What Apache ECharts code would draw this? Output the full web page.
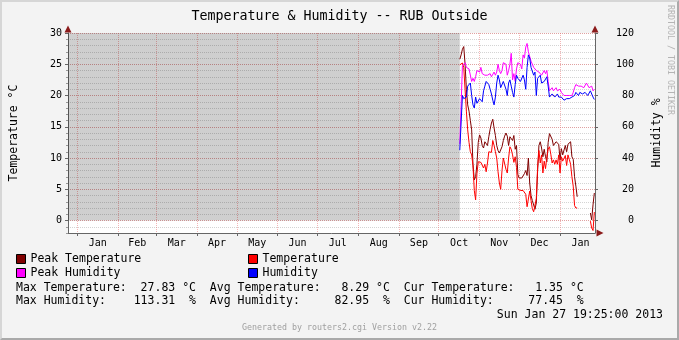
<!DOCTYPE html>
<html><head><meta charset="utf-8">
<script src="https://cdn.jsdelivr.net/npm/echarts@6/dist/echarts.min.js"></script>
<style>
html,body{margin:0;padding:0;background:#f3f3f3;}
#wrap{position:relative;width:679px;height:340px;}
#chart{width:679px;height:340px;}
#frame{position:absolute;left:0;top:0;width:679px;height:340px;box-sizing:border-box;border:2px solid;border-color:#d6d6d6 #a9a9a9 #a9a9a9 #d6d6d6;pointer-events:none;}
</style></head>
<body><div id="wrap"><div id="chart"></div><div id="frame"></div></div>
<script>
// ---- data (x = days since 2012-01-01) ----
const monthNames = ['Jan','Feb','Mar','Apr','May','Jun','Jul','Aug','Sep','Oct','Nov','Dec','Jan'];
const monthStarts = [0,31,60,91,121,152,182,213,244,274,305,335,366,397];
const xMin = -7, xMax = 392.5;
const unknownEnd = 290;          // gray "unknown" region ends (Oct 17)
const startDay = 290;            // first daily sample
const tempTicks = [0,5,10,15,20,25,30];
const humTicks = [0,20,40,60,80,100,120];

const peakTemp = [25.8,26.5,27.4,27.83,25.0,21.0,18.5,17.5,16.0,14.5,
  9.0,6.5,7.0,9.0,12.5,13.7,13.2,12.0,11.6,12.6,
  12.9,12.0,13.4,14.6,15.6,16.2,14.8,13.6,12.0,11.2,
  10.8,10.6,11.8,12.8,13.5,14.0,13.5,12.0,13.4,13.2,
  12.8,13.6,11.4,12.0,7.4,6.8,7.0,6.8,6.5,7.5,
  8.0,7.2,10.0,6.0,4.0,3.2,3.5,1.8,2.8,8.0,
  12.0,12.6,11.6,10.2,11.4,10.2,9.4,12.5,13.9,13.9,
  13.0,12.0,12.0,12.6,12.6,12.2,9.7,11.5,10.5,10.2,
  12.0,11.0,12.2,11.9,12.6,10.2,9.8,7.0,5.5,3.8,
  null,null,null,null,null,null,null,null,null,
  1.2,0.1,2.5,4.4];
const temperature = [24.9,25.2,25.2,24.5,21.0,17.5,14.5,12.5,11.0,10.5,
  8.8,4.8,3.3,7.5,9.4,9.4,9.3,9.4,8.4,9.0,
  7.8,9.2,11.0,11.2,10.9,12.8,12.0,11.0,10.0,7.8,
  6.0,5.0,8.0,10.0,10.2,8.2,7.6,10.0,11.8,11.4,
  10.5,9.3,10.2,8.5,5.0,4.9,4.8,4.6,4.8,5.0,
  4.2,2.2,2.0,4.7,3.2,1.9,1.4,1.7,3.5,8.5,
  11.2,9.2,10.5,7.6,9.5,8.3,10.2,11.4,11.8,10.6,
  9.2,9.7,9.0,9.7,9.0,10.5,7.6,10.2,9.5,9.5,
  10.4,8.8,10.5,9.8,9.0,7.0,5.5,2.4,2.0,2.0,
  null,null,null,null,null,null,null,null,null,
  -0.1,-1.2,-1.6,1.35];
const peakHumidity = [49,49,99,100,101,98,99,97,98,89,
  91,89,92,96,97,95,98,94,95,93,
  94,93,92,94,92,91,95,93,95,100,
  96,94,96,101,102,100,93,96,100,107,
  90,94,89,97,101,101,100,97,106,104,
  111,113.31,108,105,102,101,98,97,96,97,
  95,94,93,94,96,94,96,89,83,82,
  85,83,84,85,83,82,84,82,82,80,
  79,80,81,80,81,80,82,85,87,88,
  86,85,86,87,85,85,88,87,85,
  84,86,83,84];
const humidity = [45,45,80,78,77,79,86,85,88,80,
  74,72,79,75,76,78,79,76,83,86,
  89,90,87,84,81,77,74,79,88,93,
  90,85,84,89,88,84,80,88,90,86,
  82,79,87,93,91,90,89,88,93,90,
  84,98,106,104,98,98,93,95,80,91,
  90,93,88,89,89,90,92,86,79,78,
  81,80,79,80,81,79,80,79,78,77,
  76,78,78,78,78,79,78,80,82,81,
  80,82,81,81,80,82,81,80,81,
  83,83,79,77.45];

const statNames = ['Max','Avg','Cur'];
const tempStats = [27.83, 8.29, 1.35];
const humStats = [113.31, 82.95, 77.45];
const stampText = 'Sun Jan 27 19:25:00 2013';

// ---- helpers ----
const FONT = 'DejaVu Sans Mono';
const pts = arr => arr.map((v, i) => [startDay + i, v]);
const labelDays = monthNames.map((_, i) => (monthStarts[i] + monthStarts[i + 1]) / 2);
const monthLabel = v => {
  let best = 0;
  labelDays.forEach((d, i) => { if (Math.abs(d - v) < Math.abs(labelDays[best] - v)) best = i; });
  return monthNames[best];
};
const line1 = statNames.map((n, i) => n + ' Temperature:' + tempStats[i].toFixed(2).padStart(7) + ' °C').join('  ');
const line2 = statNames.map((n, i) => n + ' Humidity:' + humStats[i].toFixed(2).padStart(10) + '  %').join('  ');

const majorGrid = {show: true, lineStyle: {color: 'rgba(235,110,110,0.5)', width: 1, type: [1, 1]}};
const minorGrid = {show: true, lineStyle: {color: 'rgba(160,160,160,0.45)', width: 1, type: [1, 1]}};
const arrowColor = '#8b1a1a';
const legendCommon = {orient: 'vertical', top: 252, padding: 0, itemWidth: 9, itemHeight: 9, itemGap: 0,
  icon: 'rect', selectedMode: false, itemStyle: {borderColor: '#000', borderWidth: 1},
  textStyle: {fontFamily: FONT, fontSize: 11.5, color: '#000', lineHeight: 14}};

const chart = echarts.init(document.getElementById('chart'), null, {renderer: 'canvas'});
chart.setOption({
  animation: false,
  backgroundColor: '#f3f3f3',
  textStyle: {fontFamily: FONT},
  title: {
    text: 'Temperature & Humidity -- RUB Outside', left: 'center', top: 5,
    textStyle: {fontFamily: FONT, fontSize: 13.3, fontWeight: 'normal', color: '#000'}
  },
  grid: {left: 66, right: 84, top: 33, bottom: 107, show: true, backgroundColor: '#ffffff', borderWidth: 0},
  legend: [
    Object.assign({data: ['Peak Temperature', 'Peak Humidity'], left: 16}, legendCommon),
    Object.assign({data: ['Temperature', 'Humidity'], left: 248}, legendCommon)
  ],
  xAxis: [
    {type: 'value', min: xMin, max: xMax, position: 'bottom',
     axisLine: {show: true, onZero: false, lineStyle: {color: '#666', width: 1}},
     axisTick: {show: true, customValues: monthStarts, length: 3, lineStyle: {color: '#666'}},
     axisLabel: {customValues: labelDays, formatter: monthLabel, fontFamily: FONT, fontSize: 10, color: '#000', margin: 5},
     splitLine: majorGrid},
    {type: 'value', min: xMin, max: xMax, position: 'bottom',
     axisLine: {show: true, onZero: false, symbol: ['none', 'triangle'], symbolSize: [7, 7], symbolOffset: [0, 5],
                lineStyle: {color: arrowColor, width: 0}},
     axisTick: {show: false}, axisLabel: {show: false}, splitLine: {show: false}}
  ],
  yAxis: [
    {type: 'value', min: -2, max: 30, interval: 1, position: 'left',
     axisLine: {show: true, onZero: false, lineStyle: {color: '#666', width: 1}},
     axisTick: {show: true, length: 2, lineStyle: {color: '#999'}},
     axisLabel: {customValues: tempTicks, fontFamily: FONT, fontSize: 10, color: '#000', margin: 6},
     splitLine: minorGrid,
     name: 'Temperature °C', nameLocation: 'middle', nameRotate: 90, nameGap: 48,
     nameTextStyle: {fontFamily: FONT, fontSize: 11.5, color: '#000'}},
    {type: 'value', min: -2, max: 30, position: 'left',
     axisLine: {show: true, onZero: false, symbol: ['none', 'triangle'], symbolSize: [7, 7], symbolOffset: [0, 4],
                lineStyle: {color: arrowColor, width: 0}},
     axisTick: {show: true, customValues: tempTicks, length: 3, lineStyle: {color: '#666'}},
     axisLabel: {show: false},
     splitLine: majorGrid},
    {type: 'value', min: -8, max: 120, position: 'right',
     axisLine: {show: true, onZero: false, lineStyle: {color: '#666', width: 1}},
     axisTick: {show: true, customValues: humTicks, length: 3, lineStyle: {color: '#666'}},
     axisLabel: {customValues: humTicks, align: 'right', margin: 39, fontFamily: FONT, fontSize: 10, color: '#000'},
     splitLine: {show: false},
     name: 'Humidity %', nameLocation: 'middle', nameRotate: 90, nameGap: 56,
     nameTextStyle: {fontFamily: FONT, fontSize: 11.5, color: '#000'}},
    {type: 'value', min: -8, max: 120, position: 'right',
     axisLine: {show: true, onZero: false, symbol: ['none', 'triangle'], symbolSize: [7, 7], symbolOffset: [0, 4],
                lineStyle: {color: arrowColor, width: 0}},
     axisTick: {show: false}, axisLabel: {show: false}, splitLine: {show: false}}
  ],
  series: [
    {name: 'Peak Temperature', type: 'line', xAxisIndex: 0, yAxisIndex: 0, data: pts(peakTemp),
     symbol: 'none', color: '#800000', itemStyle: {color: '#800000'}, lineStyle: {width: 1, color: '#800000'},
     markArea: {silent: true, itemStyle: {color: 'rgba(0,0,0,0.19)'},
                data: [[{xAxis: xMin, yAxis: 0}, {xAxis: unknownEnd, yAxis: 30}]]}},
    {name: 'Temperature', type: 'line', xAxisIndex: 0, yAxisIndex: 0, data: pts(temperature),
     symbol: 'none', color: '#ff0000', itemStyle: {color: '#ff0000'}, lineStyle: {width: 1, color: '#ff0000'}},
    {name: 'Peak Humidity', type: 'line', xAxisIndex: 0, yAxisIndex: 2, data: pts(peakHumidity),
     symbol: 'none', color: '#ff00ff', itemStyle: {color: '#ff00ff'}, lineStyle: {width: 1, color: '#ff00ff'}},
    {name: 'Humidity', type: 'line', xAxisIndex: 0, yAxisIndex: 2, data: pts(humidity),
     symbol: 'none', color: '#0000ff', itemStyle: {color: '#0000ff'}, lineStyle: {width: 1, color: '#0000ff'}}
  ],
  graphic: [
    {type: 'text', left: 16, top: 282, style: {text: line1, font: '11.5px "DejaVu Sans Mono"', fill: '#000'}},
    {type: 'text', left: 16, top: 295, style: {text: line2, font: '11.5px "DejaVu Sans Mono"', fill: '#000'}},
    {type: 'text', right: 16, top: 309, style: {text: stampText, font: '11.5px "DejaVu Sans Mono"', fill: '#000'}},
    {type: 'text', left: 'center', top: 324, style: {text: 'Generated by routers2.cgi Version v2.22', font: '8.3px "DejaVu Sans Mono"', fill: '#a0a0a0'}},
    {type: 'text', x: 670, y: 5, rotation: -Math.PI / 2,
     style: {text: 'RRDTOOL / TOBI OETIKER', font: '8.3px "DejaVu Sans Mono"', fill: '#b4b4b4', align: 'left', verticalAlign: 'middle'}}
  ]
});
</script>
</body></html>
